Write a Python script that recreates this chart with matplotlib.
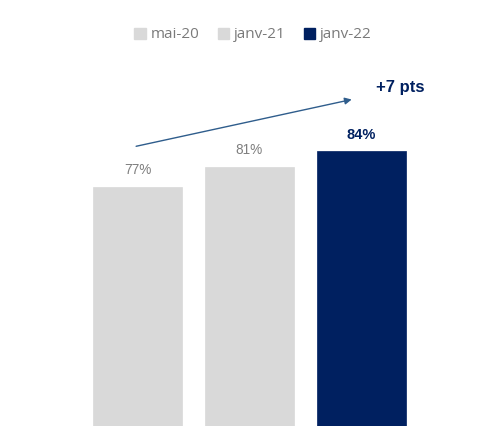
import matplotlib.pyplot as plt
from matplotlib.patches import Patch

periods = ["mai-20", "janv-21", "janv-22"]
values = [77, 81, 84]
value_labels = ["77%", "81%", "84%"]
gain_label = "+7 pts"

grey = "#d9d9d9"
navy = "#002060"
colors = [grey, grey, navy]

W, H = 482, 436
fig = plt.figure(figsize=(W / 100, H / 100), dpi=100)
# axes placed in pixel terms: left 70, right 430, bottom 426, top 70
ax = fig.add_axes([70 / W, (H - 426) / H, 360 / W, 356 / H])
ax.set_xlim(-0.607, 2.616)
ax.set_ylim(30, 100)
ax.axis("off")

x = list(range(len(values)))
ax.bar(x, [v - 30 for v in values], bottom=30, width=0.8, color=colors,
       edgecolor=colors, linewidth=0.5)

for i, (v, lab) in enumerate(zip(values, value_labels)):
    last = i == len(values) - 1
    ax.text(i, v + 1.9, lab, ha="center", va="bottom",
            fontsize=10.5 if last else 9.8,
            fontweight="bold" if last else "normal",
            color=navy if last else "#7f7f7f",
            family="Liberation Sans")

# trend arrow and gain label
ax.annotate("", xy=(1.915, 94.2), xytext=(-0.015, 85.0),
            arrowprops=dict(arrowstyle="-|>", color="#2f5d8c", lw=1.0,
                            mutation_scale=10, shrinkA=0, shrinkB=0))
ax.text(2.13, 96.5, gain_label, ha="left", va="center", fontsize=12,
        fontweight="bold", color=navy, family="Liberation Sans")

handles = [Patch(facecolor=c, edgecolor=c) for c in colors]
fig.legend(handles, periods, loc="center", bbox_to_anchor=(253 / W, 1 - 35 / H),
           ncol=3, frameon=False, handlelength=0.75, handleheight=0.75,
           handletextpad=0.3, columnspacing=1.2,
           prop={"family": "Open Sans", "size": 11}, labelcolor="#7a7a7a")

fig.savefig("out.png", dpi=100)
